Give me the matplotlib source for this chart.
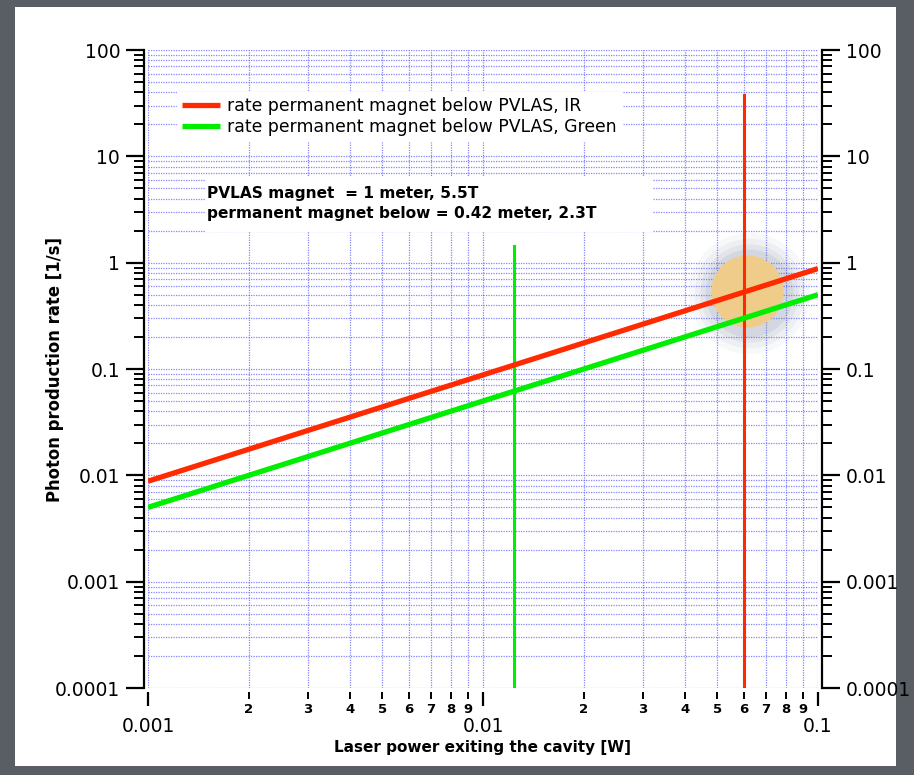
"""Photon production rate vs laser power, log-log, with cut lines."""
import matplotlib
matplotlib.use("Agg")
import matplotlib.pyplot as plt
import matplotlib.patches as mpatches
from matplotlib.ticker import LogLocator, FixedLocator, FixedFormatter, NullFormatter

# data
power = [0.001, 0.01, 0.1]
rate_ir = [0.0088, 0.088, 0.88]
rate_green = [0.005, 0.05, 0.5]

green_cut_x = 0.0124
green_cut_top = 1.45
red_cut_x = 0.06
red_cut_top = 38

glow_x = 0.0614
glow_y = 0.545

x_major = [0.001, 0.01, 0.1]
x_major_labels = ["0.001", "0.01", "0.1"]
x_minor_digits = [2, 3, 4, 5, 6, 7, 8, 9]
y_major = [1e-4, 1e-3, 1e-2, 1e-1, 1, 10, 100]
y_major_labels = ["0.0001", "0.001", "0.01", "0.1", "1", "10", "100"]

RED = "#ff2a00"
GREEN = "#00ee00"
GRID = "#5c5cff"
BG = "#595e65"

W, H = 914, 775
fig = plt.figure(figsize=(W / 100, H / 100), dpi=100)
fig.patch.set_facecolor(BG)
fig.patches.append(mpatches.Rectangle((15 / W, 9 / H), 881 / W, 759 / H,
                                      transform=fig.transFigure,
                                      facecolor="white", edgecolor="none", zorder=-5))

ax = fig.add_axes([148 / W, 87 / H, 670 / W, 638 / H])
ax.set_zorder(2)
ax.set_facecolor("white")
ax.set_xscale("log")
ax.set_yscale("log")
ax.set_xlim(0.001, 0.1)
ax.set_ylim(1e-4, 100)

# grid
ax.grid(True, which="both", color=GRID, linestyle=(0, (1, 1)), linewidth=0.9, alpha=0.75, zorder=1)
ax.set_axisbelow(True)

# glow marker with soft shadow
for s, a in ((7600, 0.05), (6200, 0.07), (5000, 0.09), (4000, 0.12)):
    ax.scatter([glow_x * 1.015], [glow_y * 0.96], s=s, color="#707a99", alpha=a,
               linewidths=0, zorder=2)
ax.scatter([glow_x], [glow_y], s=2700, color="#f0cc8a", linewidths=0, zorder=3)

# series
ax.plot(power, rate_ir, color=RED, linewidth=3.8, solid_capstyle="butt", zorder=5,
        label="rate permanent magnet below PVLAS, IR")
ax.plot(power, rate_green, color=GREEN, linewidth=3.8, solid_capstyle="butt", zorder=5,
        label="rate permanent magnet below PVLAS, Green")

ax.plot([green_cut_x, green_cut_x], [1e-4, green_cut_top], color=GREEN, linewidth=2.2, zorder=4)
ax.plot([red_cut_x, red_cut_x], [1e-4, red_cut_top], color=RED, linewidth=2.2, zorder=4)

# spines
for side in ("left", "right"):
    ax.spines[side].set_position(("outward", 3))
    ax.spines[side].set_linewidth(1.6)
ax.spines["top"].set_visible(False)
ax.spines["bottom"].set_visible(False)
ax.spines["bottom"].set_position(("outward", 3))

# y ticks
ax.yaxis.set_major_locator(FixedLocator(y_major))
ax.yaxis.set_major_formatter(FixedFormatter(y_major_labels))
ax.yaxis.set_minor_locator(LogLocator(base=10, subs=x_minor_digits, numticks=20))
ax.yaxis.set_minor_formatter(NullFormatter())
ax.tick_params(axis="y", which="major", length=13, width=1.6, labelsize=13.5, pad=4,
               left=True, right=True, labelleft=True, labelright=True)
ax.tick_params(axis="y", which="minor", length=7, width=1.4, left=True, right=True)

# x ticks
x_minor = [d * base for base in x_major[:-1] for d in x_minor_digits]
ax.xaxis.set_major_locator(FixedLocator(x_major))
ax.xaxis.set_major_formatter(FixedFormatter(x_major_labels))
ax.xaxis.set_minor_locator(FixedLocator(x_minor))
ax.xaxis.set_minor_formatter(FixedFormatter([str(d) for d in x_minor_digits] * 2))
ax.tick_params(axis="x", which="major", length=10, width=1.6, labelsize=13.5, pad=8)
ax.tick_params(axis="x", which="minor", length=5, width=1.4, labelsize=9.5, pad=3)
for lbl in ax.xaxis.get_minorticklabels():
    lbl.set_fontweight("bold")

ax.set_xlabel("Laser power exiting the cavity [W]", fontsize=11, fontweight="bold", labelpad=3)
ax.set_ylabel("Photon production rate [1/s]", fontsize=11.9, fontweight="bold")
ax.yaxis.set_label_coords(-0.125, 0.5)

leg = ax.legend(loc="upper left", bbox_to_anchor=(20 / 670, 1 - 33 / 638),
                fontsize=12.4, frameon=True, fancybox=False, framealpha=1,
                edgecolor="white", handlelength=2.2, handletextpad=0.45,
                labelspacing=0.2, borderpad=0.3)
leg.set_zorder(6)

# note box (white panel wider than its text, as in the reference)
ax.add_patch(mpatches.Rectangle((57 / 670, 1 - 182 / 638), 448 / 670, 55 / 638,
                                transform=ax.transAxes, facecolor="white",
                                edgecolor="none", zorder=6))
ax.text(59 / 670, 1 - 136 / 638,
        "PVLAS magnet  = 1 meter, 5.5T\npermanent magnet below = 0.42 meter, 2.3T",
        transform=ax.transAxes, fontsize=11.05, fontweight="bold", va="top", ha="left",
        linespacing=1.42, zorder=7)

fig.savefig("out.png", dpi=100, facecolor=BG)
